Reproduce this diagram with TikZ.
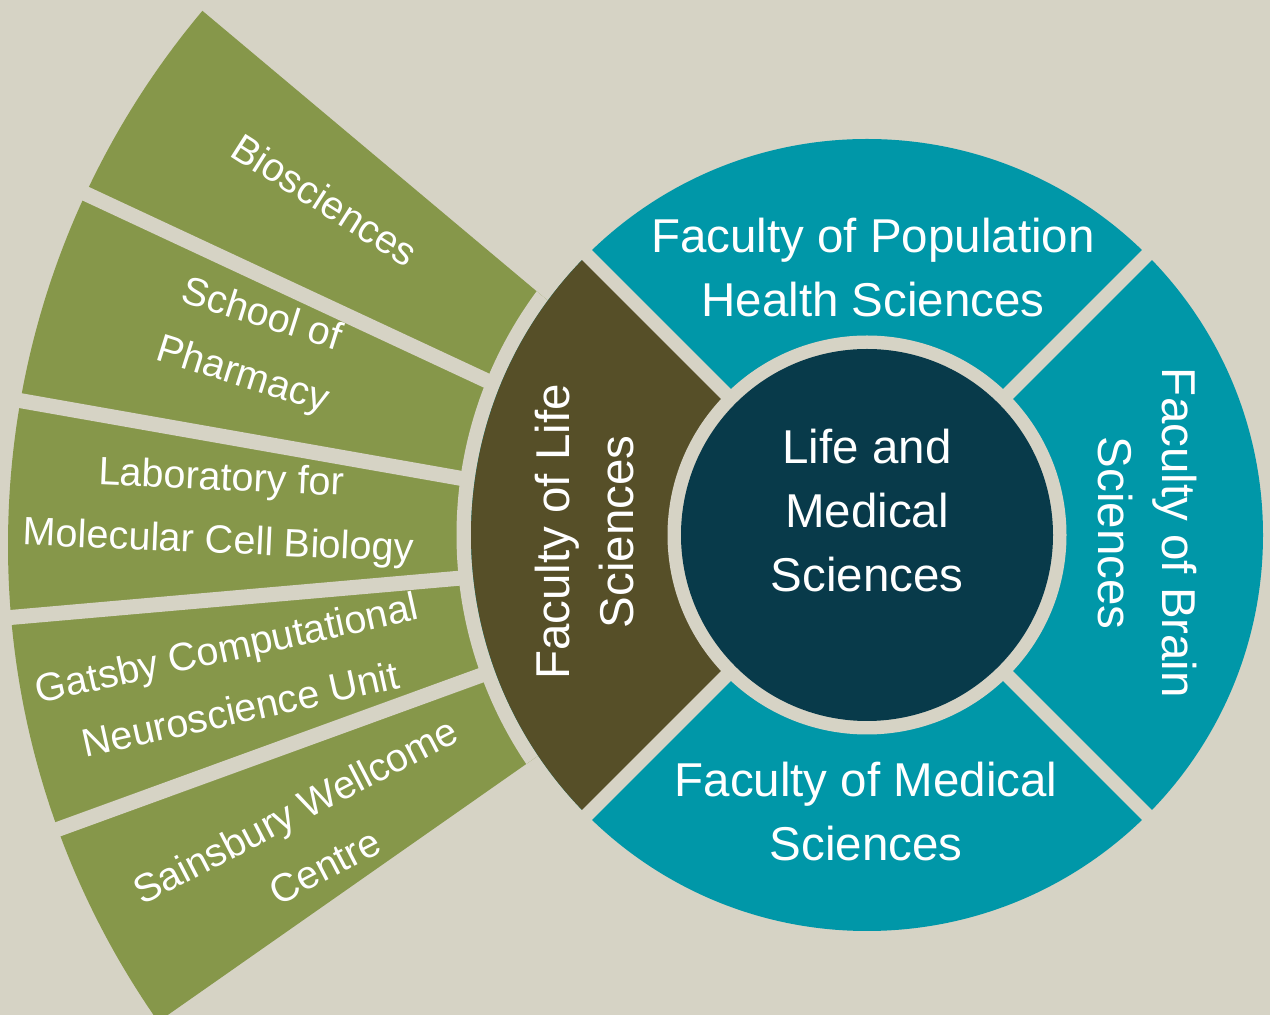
\documentclass[tikz,border=0pt]{standalone}
\usepackage{fontspec}
\setmainfont{Liberation Sans}
\definecolor{bgc}{RGB}{214,211,197}
\definecolor{olivec}{RGB}{134,151,74}
\definecolor{brownc}{RGB}{86,79,40}
\definecolor{tealc}{RGB}{0,151,168}
\definecolor{darkc}{RGB}{8,58,74}
\begin{document}
\begin{tikzpicture}[x=1pt,y=1pt,
  bigtext/.style={text=white, align=center, inner sep=0pt, font=\fontsize{47.5}{64}\selectfont},
  fantext/.style={text=white, align=center, inner sep=0pt, font=\fontsize{39.5}{63}\selectfont},
  fangap/.style={draw=bgc, line width=15pt},
  ringgap/.style={draw=bgc, line width=14pt}]
\fill[bgc] (0,0) rectangle (1270,1015);
\useasboundingbox (0,0) rectangle (1270,1015);
\coordinate (C) at (867,480);
\coordinate (A) at (839,470);
% fan of departments
\begin{scope}
  \clip (0,0) rectangle (1270,1015);
  \clip (A) -- ++(140:1100) arc[start angle=140,end angle=215,radius=1100] -- cycle;
  \fill[olivec] (A) circle[radius=831];
  \fill[bgc] (C) circle[radius=410.5];
  \foreach \a in {155,170,185,200} \draw[fangap] (A) -- ++(\a:1000);
\end{scope}
% ring of faculties
\fill[tealc] (C) circle[radius=396];
\fill[brownc] (C) -- ++(135:396) arc[start angle=135,end angle=225,radius=396] -- cycle;
\foreach \a in {45,135,225,315} \draw[ringgap] (C) -- ++(\a:400);
\fill[bgc] (C) circle[radius=199.5];
\node[circle, fill=darkc, minimum size=372pt, inner sep=0pt] (core) at (C) {};
% texts
\node[bigtext] (lms) at (867,504.5) {Life and\\Medical\\Sciences};
\node[bigtext] (fphs) at (873,747.5) {Faculty of Population\\Health Sciences};
\node[bigtext] (fms) at (866,203) {Faculty of Medical\\Sciences};
\node[bigtext, rotate=-90] (fbs) at (1147,482) {Faculty of Brain\\Sciences};
\node[bigtext, rotate=90] (fls) at (585,483) {Faculty of Life\\Sciences};
\node[fantext, rotate=-32.5] (bio) at ([shift={(146.1:619)}]A) {Biosciences};
\node[fantext, rotate=-17.5] (pharm) at ([shift={(161.3:620)}]A) {School of\\Pharmacy};
\node[fantext, rotate=-2.5] (lmcb) at ([shift={(176.9:620)}]A) {Laboratory for\\Molecular Cell Biology};
\node[fantext, rotate=12.5] (gatsby) at ([shift={(192.4:620)}]A) {Gatsby Computational\\Neuroscience Unit};
\node[fantext, rotate=27.5] (swc) at ([shift={(209:605)}]A) {Sainsbury Wellcome\\Centre};
\end{tikzpicture}
\end{document}
